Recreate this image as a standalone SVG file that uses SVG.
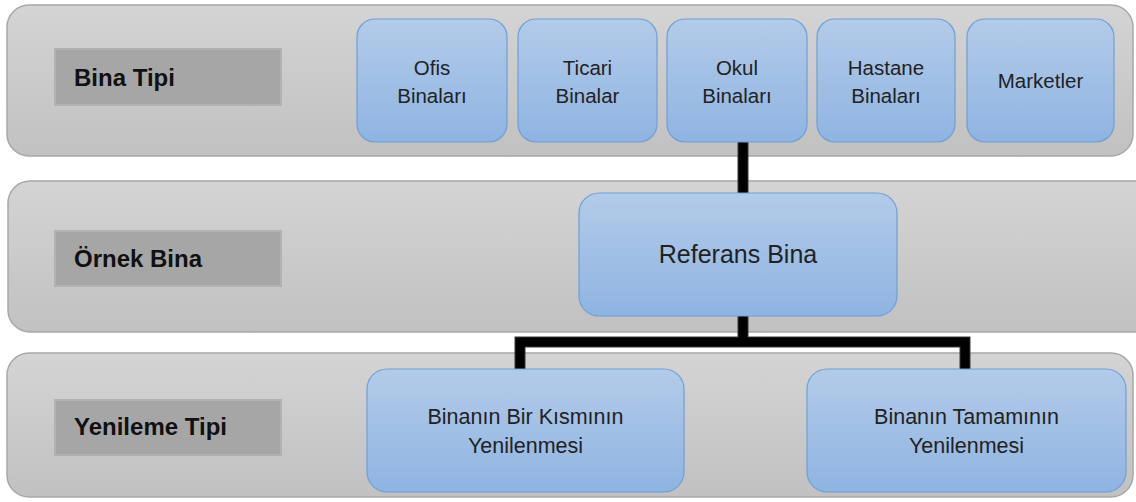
<svg xmlns="http://www.w3.org/2000/svg" width="1136" height="502" viewBox="0 0 1136 502">
<defs>
<linearGradient id="gBand" x1="0" y1="0" x2="0" y2="1">
<stop offset="0" stop-color="#d4d4d4"/>
<stop offset="1" stop-color="#c1c1c1"/>
</linearGradient>
<linearGradient id="gBox" x1="0" y1="0" x2="0" y2="1">
<stop offset="0" stop-color="#b3cbe9"/>
<stop offset="1" stop-color="#8fb4e2"/>
</linearGradient>
</defs>
<style>
.band{fill:url(#gBand);stroke:#a8a8a8;stroke-width:1.5}
.lab{fill:#a6a6a6;stroke:#b2b2b2;stroke-width:2}
.labt{font-family:"Liberation Sans",Arial,sans-serif;font-weight:bold;font-size:24px;fill:#111}
.box{fill:url(#gBox);stroke:#6f9fd4;stroke-width:1.2}
.t{font-family:"Liberation Sans",Arial,sans-serif;font-size:20.5px;fill:#222;text-anchor:middle}
.tb{font-family:"Liberation Sans",Arial,sans-serif;font-size:21.5px;fill:#222;text-anchor:middle}
.t2{font-family:"Liberation Sans",Arial,sans-serif;font-size:25px;fill:#222;text-anchor:middle}
.c1{fill:none;stroke:#3a3a3a;stroke-width:11;stroke-linejoin:miter}
.c2{fill:none;stroke:#000;stroke-width:9;stroke-linejoin:miter}
</style>
<g id="bands">
<rect class="band" x="7" y="5" width="1126" height="151" rx="22"/>
<rect class="band" x="8" y="181" width="1150" height="151" rx="22"/>
<rect class="band" x="7" y="353" width="1126" height="144" rx="22"/>
</g>
<g id="label-bina-tipi">
<rect class="lab" x="55" y="49" width="226" height="56"/>
<text class="labt" x="74" y="86">Bina Tipi</text>
</g>
<g id="label-ornek-bina">
<rect class="lab" x="55" y="231" width="226" height="55"/>
<text class="labt" x="74" y="267">Örnek Bina</text>
</g>
<g id="label-yenileme-tipi">
<rect class="lab" x="55" y="400" width="226" height="55"/>
<text class="labt" x="74" y="435">Yenileme Tipi</text>
</g>
<g id="connectors">
<path class="c1" d="M743,142 V193 M743,316 V342 M520,369 V342 H965 V369"/>
<path class="c2" d="M743,142 V193 M743,316 V342 M520,369 V342 H965 V369"/>
</g>
<g id="ofis">
<rect class="box" x="357" y="19" width="150" height="123" rx="18"/>
<text class="t" x="432" y="75">Ofis</text>
<text class="t" x="432" y="103">Binaları</text>
</g>
<g id="ticari">
<rect class="box" x="518" y="19" width="139" height="123" rx="18"/>
<text class="t" x="587.5" y="75">Ticari</text>
<text class="t" x="587.5" y="103">Binalar</text>
</g>
<g id="okul">
<rect class="box" x="667" y="19" width="140" height="123" rx="18"/>
<text class="t" x="737" y="75">Okul</text>
<text class="t" x="737" y="103">Binaları</text>
</g>
<g id="hastane">
<rect class="box" x="817" y="19" width="138" height="123" rx="18"/>
<text class="t" x="886" y="75">Hastane</text>
<text class="t" x="886" y="103">Binaları</text>
</g>
<g id="marketler">
<rect class="box" x="967" y="19" width="147" height="123" rx="18"/>
<text class="t" x="1040.5" y="88">Marketler</text>
</g>
<g id="referans">
<rect class="box" x="579" y="193" width="318" height="123" rx="20"/>
<text class="t2" x="738" y="263">Referans Bina</text>
</g>
<g id="bir-kismi">
<rect class="box" x="367" y="369" width="317" height="123" rx="20"/>
<text class="tb" x="525.5" y="424">Binanın Bir Kısmının</text>
<text class="tb" x="525.5" y="453">Yenilenmesi</text>
</g>
<g id="tamami">
<rect class="box" x="807" y="369" width="319" height="123" rx="20"/>
<text class="tb" x="966.5" y="424">Binanın Tamamının</text>
<text class="tb" x="966.5" y="453">Yenilenmesi</text>
</g>
</svg>
